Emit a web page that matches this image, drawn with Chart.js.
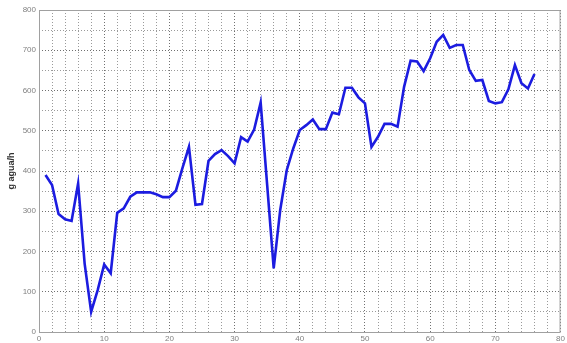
<!DOCTYPE html>
<html>
<head>
<meta charset="utf-8">
<script src="https://cdn.jsdelivr.net/npm/chart.js@4/dist/chart.umd.min.js"></script>
<style>
  html, body { margin: 0; padding: 0; background: #fff; }
  #wrap { width: 567px; height: 343px; position: relative; }
</style>
</head>
<body>
<div id="wrap"><canvas id="c" width="567" height="343"></canvas></div>
<script>
// Hourly water flow samples (g agua/h)
const samples = [
  1, 2, 3, 4, 5, 6, 7, 8, 9, 10,
  11, 12, 13, 14, 15, 16, 17, 18, 19, 20,
  21, 22, 23, 24, 25, 26, 27, 28, 29, 30,
  31, 32, 33, 34, 35, 36, 37, 38, 39, 40,
  41, 42, 43, 44, 45, 46, 47, 48, 49, 50,
  51, 52, 53, 54, 55, 56, 57, 58, 59, 60,
  61, 62, 63, 64, 65, 66, 67, 68, 69, 70,
  71, 72, 73, 74, 75, 76
];
const flow = [
  390, 365, 293, 280, 276, 369, 170, 50, 104, 168,
  146, 296, 307, 336, 347, 347, 347, 342, 335, 335,
  351, 407, 460, 316, 318, 425, 442, 452, 437, 419,
  484, 473, 503, 570, 365, 158, 303, 402, 456, 502,
  514, 528, 504, 504, 545, 541, 607, 607, 583, 568,
  460, 485, 517, 517, 510, 609, 674, 672, 648, 680,
  721, 738, 706, 713, 713, 651, 624, 626, 574, 568,
  571, 603, 663, 618, 605, 641
];
const yTitle = 'g agua/h';
const xRange = [0, 80];
const yRange = [0, 800];

const points = samples.map((x, i) => ({ x: x, y: flow[i] }));

// Outline the plotting box on all four sides
const frame = {
  id: 'frame',
  afterDraw(chart) {
    const a = chart.chartArea, ctx = chart.ctx;
    ctx.save();
    ctx.strokeStyle = '#a0a0a0';
    ctx.lineWidth = 1;
    ctx.setLineDash([]);
    ctx.strokeRect(a.left + 0.5, a.top + 0.5, a.right - a.left - 1, a.bottom - a.top);
    ctx.restore();
  }
};

const tickFont = { family: 'Liberation Sans, Arial, sans-serif', size: 8 };

new Chart(document.getElementById('c'), {
  type: 'line',
  data: {
    datasets: [{
      data: points,
      borderColor: '#1c1ce0',
      borderWidth: 2.6,
      pointRadius: 0,
      tension: 0,
      fill: false
    }]
  },
  options: {
    responsive: false,
    animation: false,
    layout: { padding: { top: 10, right: 4, left: 0, bottom: 0 } },
    plugins: { legend: { display: false }, tooltip: { enabled: false } },
    scales: {
      x: {
        type: 'linear',
        min: xRange[0], max: xRange[1],
        border: { display: false, dash: [1, 2] },
        grid: {
          color: (c) => (c.tick && c.tick.value % 10 === 0) ? '#707070' : '#9a9a9a',
          lineWidth: 1,
          drawTicks: false
        },
        ticks: {
          stepSize: 2,
          autoSkip: false,
          maxRotation: 0,
          padding: 2,
          color: '#808080',
          font: tickFont,
          callback: (v) => (v % 10 === 0 ? String(v) : '')
        },
        afterFit: (s) => { s.height = 11; }
      },
      y: {
        type: 'linear',
        min: yRange[0], max: yRange[1],
        border: { display: false, dash: [1, 2] },
        grid: {
          color: (c) => (c.tick && c.tick.value % 100 === 0) ? '#707070' : '#9a9a9a',
          lineWidth: 1,
          drawTicks: false
        },
        ticks: {
          stepSize: 50,
          autoSkip: false,
          padding: 3,
          color: '#808080',
          font: tickFont,
          callback: (v) => (v % 100 === 0 ? String(v) : '')
        },
        title: {
          display: true,
          text: yTitle,
          color: '#333',
          padding: { top: 6, bottom: 0 },
          font: { family: 'Liberation Sans, Arial, sans-serif', size: 9, weight: 'bold' }
        },
        afterFit: (s) => { s.width = 39; }
      }
    }
  },
  plugins: [frame]
});
</script>
</body>
</html>
